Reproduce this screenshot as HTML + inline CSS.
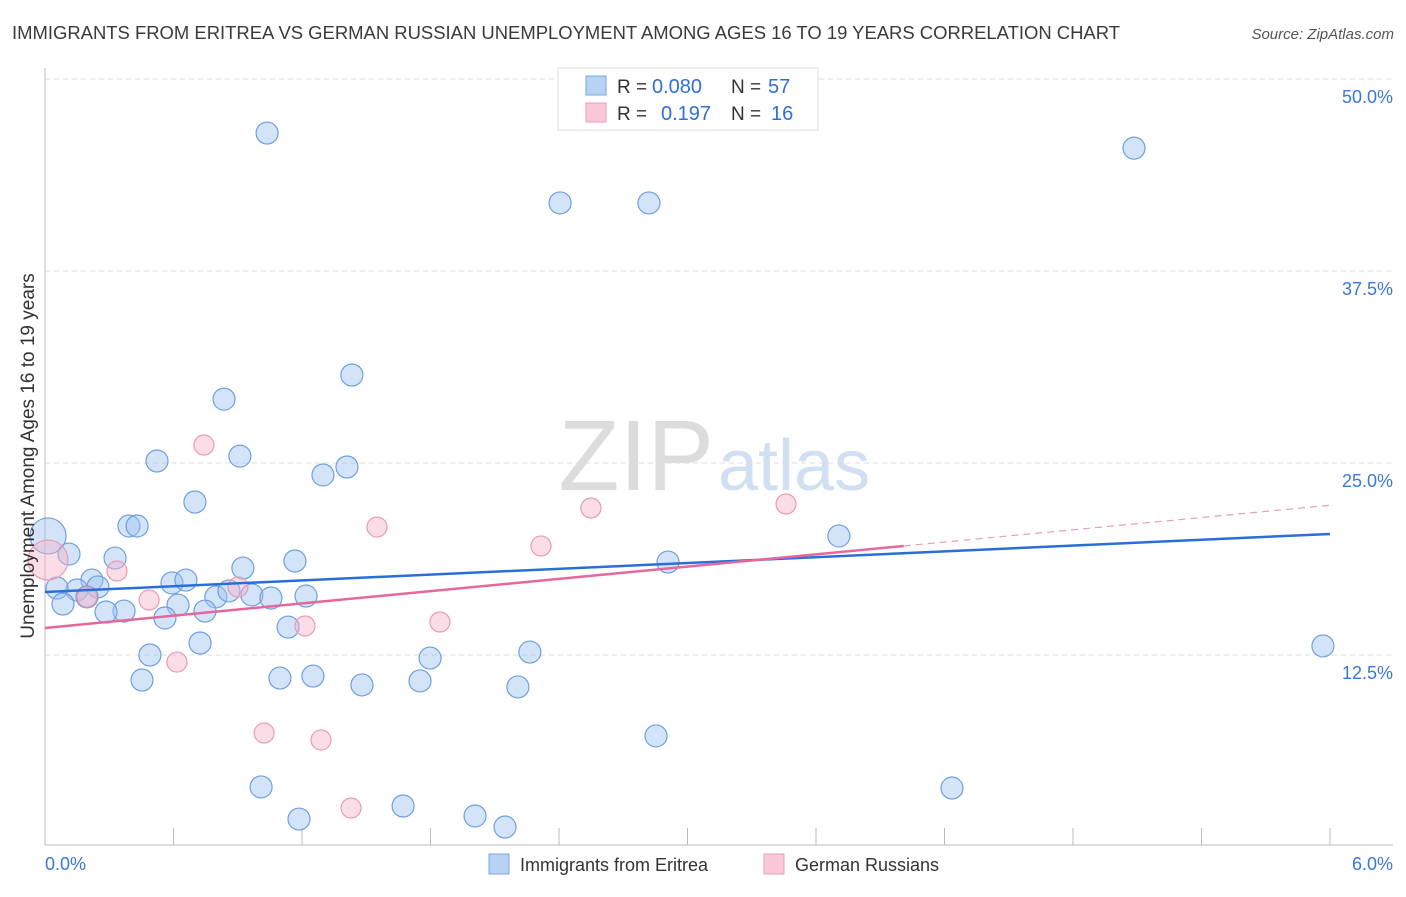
<!DOCTYPE html>
<html><head><meta charset="utf-8"><style>
body{margin:0;background:#fff;font-family:"Liberation Sans",sans-serif;}
svg text{font-family:"Liberation Sans",sans-serif;}
</style></head><body>
<svg id="chart" width="1406" height="892" xmlns="http://www.w3.org/2000/svg">
<text x="12" y="39" font-size="18" fill="#3a3a3a" textLength="1108" lengthAdjust="spacingAndGlyphs">IMMIGRANTS FROM ERITREA VS GERMAN RUSSIAN UNEMPLOYMENT AMONG AGES 16 TO 19 YEARS CORRELATION CHART</text>
<text x="1394" y="39" font-size="15" fill="#555" text-anchor="end" font-style="italic">Source: ZipAtlas.com</text>
<g>
<text x="714" y="490" font-size="100" fill="#dcdcdc" text-anchor="end" font-family="Liberation Serif, serif">ZIP</text>
<text x="718" y="490" font-size="72" fill="#d0e0f2">atlas</text>
</g>
<g id="grid"></g>
<g id="axes"></g>
<g id="marks"></g>
<text transform="translate(34,456) rotate(-90)" font-size="19" fill="#333" text-anchor="middle">Unemployment Among Ages 16 to 19 years</text>
<g>
<rect x="558" y="68" width="260" height="62" fill="#fff" stroke="#ddd"/>
<rect x="586" y="76" width="20" height="19" fill="#b8d2f4" stroke="#7aa6e0"/>
<rect x="586" y="103" width="20" height="19" fill="#f8c8d6" stroke="#e8a0b8"/>
<text x="617" y="93" font-size="19" fill="#333">R =</text>
<text x="652" y="93" font-size="20" fill="#2f6fd6">0.080</text>
<text x="731" y="93" font-size="19" fill="#333">N =</text>
<text x="768" y="93" font-size="20" fill="#2f6fd6">57</text>
<text x="617" y="120" font-size="19" fill="#333">R =</text>
<text x="661" y="120" font-size="20" fill="#2f6fd6">0.197</text>
<text x="731" y="120" font-size="19" fill="#333">N =</text>
<text x="771" y="120" font-size="20" fill="#2f6fd6">16</text>
</g>
<g>
<rect x="489" y="854" width="20" height="20" fill="#b8d2f4" stroke="#7aa6e0"/>
<text x="520" y="871" font-size="18" fill="#333">Immigrants from Eritrea</text>
<rect x="764" y="854" width="20" height="20" fill="#f8c8d6" stroke="#e8a0b8"/>
<text x="795" y="871" font-size="18" fill="#333">German Russians</text>
</g>
</svg>
<script>
const blueX=[1.037,2.405,2.820,5.085,1.433,0.836,0.910,0.523,1.410,1.298,0.700,0.392,0.430,0.014,0.112,0.327,0.924,1.167,2.909,3.707,0.593,0.658,0.219,0.247,0.149,0.056,0.084,0.798,0.859,0.966,1.055,1.219,0.621,0.369,0.285,0.747,0.560,0.196,1.135,0.724,0.490,2.264,1.798,5.967,0.453,1.097,1.251,1.480,1.751,2.208,2.853,1.009,1.672,4.235,1.186,2.008,2.148];
const blueY=[46.48,41.93,41.93,45.50,30.73,29.16,25.45,25.13,24.74,24.22,22.46,20.90,20.90,20.25,19.07,18.81,18.16,18.62,18.55,20.25,17.19,17.38,17.38,16.93,16.73,16.86,15.82,16.28,16.67,16.41,16.21,16.34,15.75,15.36,15.30,15.36,14.91,16.28,14.32,13.28,12.50,12.69,12.30,13.09,10.87,11.00,11.13,10.55,10.81,10.42,7.23,3.91,2.67,3.84,1.82,2.02,1.30];
const pinkX=[0.014,0.742,0.336,0.196,0.486,0.901,1.550,2.549,2.316,3.460,1.214,1.844,0.616,1.023,1.289,1.429];
const pinkY=[18.68,26.17,17.97,16.28,16.08,16.93,20.83,22.07,19.60,22.33,14.39,14.65,12.04,7.42,6.97,2.54];
const blueTrend=[16.60,20.38];
const pinkTrend=[14.26,22.25];
const pinkSolidEnd=4.01;
const yTicks=[12.5,25.0,37.5,50.0];
const xTickCount=10;
const xs=v=>45+v/6*1285;
const ys=v=>847-v/12.5*192;
const NS="http://www.w3.org/2000/svg";
function mk(parent,tag,attrs){const e=document.createElementNS(NS,tag);for(const k in attrs)e.setAttribute(k,attrs[k]);document.getElementById(parent).appendChild(e);return e;}
yTicks.forEach(t=>{
 const l=mk('grid','line',{x1:45,x2:1393,y1:ys(t),y2:ys(t),stroke:'#ddd','stroke-dasharray':'5,4'});
 
 
 const tx=mk('grid','text',{x:1393,y:ys(t)+24,'font-size':18,fill:'#3a78d8','text-anchor':'end'});
 tx.textContent=t.toFixed(1)+'%';
 
 
});
let a=mk('axes','line',{x1:45,x2:45,y1:68,y2:845,stroke:'#bbb'});


a=mk('axes','line',{x1:45,x2:1393,y1:845,y2:845,stroke:'#bbb'});


for(let i=1;i<=xTickCount;i++){
 const t=mk('axes','line',{x1:xs(i*0.6),x2:xs(i*0.6),y1:828,y2:845,stroke:'#bbb'});
 
 
}
let xl=mk('axes','text',{x:45,y:870,'font-size':18,fill:'#3a78d8'});xl.textContent='0.0%';


xl=mk('axes','text',{x:1393,y:870,'font-size':18,fill:'#3a78d8','text-anchor':'end'});xl.textContent='6.0%';


blueX.forEach((x,i)=>{
 const c=mk('marks','circle',{cx:xs(x),cy:ys(blueY[i]),r:i==13?18:11,fill:'rgba(160,195,240,0.45)',stroke:'#6f9fe0','stroke-width':1.2});
 
 
});
pinkX.forEach((x,i)=>{
 const c=mk('marks','circle',{cx:xs(x),cy:ys(pinkY[i]),r:i==0?20:10,fill:'rgba(245,180,200,0.45)',stroke:'#eb9ab4','stroke-width':1.2});
 
 
});
let tl=mk('marks','line',{x1:xs(0),y1:ys(blueTrend[0]),x2:xs(6),y2:ys(blueTrend[1]),stroke:'#2a6fd8','stroke-width':2.5});


const pm=(v)=>pinkTrend[0]+(pinkTrend[1]-pinkTrend[0])*v/6;
tl=mk('marks','line',{x1:xs(0),y1:ys(pinkTrend[0]),x2:xs(pinkSolidEnd),y2:ys(pm(pinkSolidEnd)),stroke:'#e4689a','stroke-width':2.5});


tl=mk('marks','line',{x1:xs(pinkSolidEnd),y1:ys(pm(pinkSolidEnd)),x2:xs(6),y2:ys(pinkTrend[1]),stroke:'#e4a0b8','stroke-width':1.2,'stroke-dasharray':'7,5'});


</script>
</body></html>
